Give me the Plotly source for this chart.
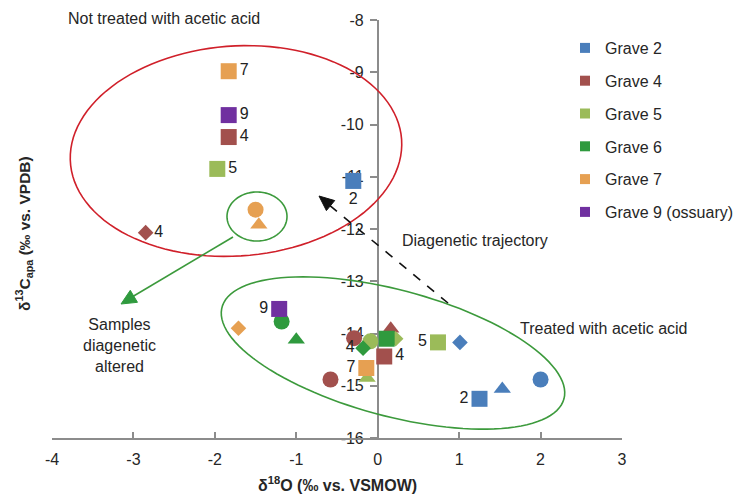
import numpy as np
import plotly.graph_objects as go

FONT = "Liberation Sans, Arial, sans-serif"

# ---------------- data ----------------
graves = ["Grave 2", "Grave 4", "Grave 5", "Grave 6", "Grave 7", "Grave 9 (ossuary)"]
colors = ["#4A7EBB", "#A2504D", "#9BBB59", "#2F9A3E", "#E6A052", "#7030A0"]

g2_x = [-0.30, 1.01, 1.25, 1.53, 2.00]
g2_y = [-11.08, -14.17, -15.25, -15.06, -14.88]
g2_sym = ["square", "diamond", "square", "triangle-up", "circle"]
g2_lab = ["2", "", "2", "", ""]
g2_pos = ["bottom center", "middle right", "middle left", "middle right", "middle right"]

g4_x = [-1.83, -2.85, -0.29, 0.16, 0.08, -0.58]
g4_y = [-10.24, -12.07, -14.09, -13.91, -14.44, -14.88]
g4_sym = ["square", "diamond", "circle", "triangle-up", "square", "circle"]
g4_lab = ["4", "4", "", "", "4", ""]
g4_pos = ["middle right", "middle right", "middle right", "middle right", "middle right", "middle right"]

g5_x = [-1.97, -0.09, 0.74, -0.13, 0.22]
g5_y = [-10.85, -14.15, -14.17, -14.85, -14.10]
g5_sym = ["square", "circle", "square", "triangle-up", "diamond"]
g5_lab = ["5", "", "5", "", ""]
g5_pos = ["middle right", "middle right", "middle left", "middle right", "middle right"]

g6_x = [0.11, -1.18, -1.00, -0.18]
g6_y = [-14.10, -13.77, -14.12, -14.28]
g6_sym = ["square", "circle", "triangle-up", "diamond"]
g6_lab = ["", "", "", "4"]
g6_pos = ["middle right", "middle right", "middle right", "middle left"]

g7_x = [-1.83, -1.50, -1.46, -1.71, -0.14]
g7_y = [-8.98, -11.63, -11.92, -13.90, -14.66]
g7_sym = ["square", "circle", "triangle-up", "diamond", "square"]
g7_lab = ["7", "", "", "", "7"]
g7_pos = ["middle right", "middle right", "middle right", "middle right", "middle left"]

g9_x = [-1.83, -1.21]
g9_y = [-9.82, -13.53]
g9_sym = ["square", "square"]
g9_lab = ["9", "9"]
g9_pos = ["middle right", "middle left"]

x_ticks = [-4, -3, -2, -1, 0, 1, 2, 3]
x_ticktext = ["-4", "-3", "-2", "-1", "0", "1", "2", "3"]
y_ticks = [-16, -15, -14, -13, -12, -11, -10, -9, -8]
y_ticktext = ["-16", "-15", "-14", "-13", "-12", "-11", "-10", "-9", "-8"]

series = [
    (g2_x, g2_y, g2_sym, g2_lab, g2_pos),
    (g4_x, g4_y, g4_sym, g4_lab, g4_pos),
    (g5_x, g5_y, g5_sym, g5_lab, g5_pos),
    (g6_x, g6_y, g6_sym, g6_lab, g6_pos),
    (g7_x, g7_y, g7_sym, g7_lab, g7_pos),
    (g9_x, g9_y, g9_sym, g9_lab, g9_pos),
]

# ---------------- layout geometry (page pixels) ----------------
PAGE_OFF = 8                      # default body margin of the html page
W, H = 745 - PAGE_OFF, 497 - PAGE_OFF
L, R, T, B = 52, 622, 20, 438     # plot area in page pixels
X0, X1, Y0, Y1 = -4, 3, -16, -8


def px2x(px):
    return X0 + (px - L) / (R - L) * (X1 - X0)


def py2y(py):
    return Y1 - (py - T) / (B - T) * (Y1 - Y0)


def pxp(px):
    return (px - L) / (R - L)


def pyp(py):
    return (B - py) / (B - T)


size_map = {"square": 16, "circle": 16, "diamond": 12, "triangle-up": 15}

fig = go.Figure()
for (xs, ys, syms, labs, poss), name, col in zip(series, graves, colors):
    fig.add_trace(go.Scatter(
        x=xs, y=ys, mode="markers+text", name=name, showlegend=False,
        text=labs, textposition=poss,
        textfont=dict(family=FONT, size=16, color="#222222"),
        marker=dict(symbol=syms, size=[size_map[s] for s in syms], color=col,
                    opacity=1, line=dict(width=0)),
        cliponaxis=False,
    ))

# legend entries
for i, (name, col) in enumerate(zip(graves, colors)):
    fig.add_trace(go.Scatter(
        x=[None], y=[None], mode="markers", name=name, legendgroup=str(i),
        marker=dict(symbol="square", size=10, color=col, opacity=1),
    ))


def ellipse_path(cx, cy, a, b, ang_deg, n=120):
    t = np.linspace(0, 2 * np.pi, n)
    th = np.deg2rad(ang_deg)
    px = cx + a * np.cos(t) * np.cos(th) - b * np.sin(t) * np.sin(th)
    py = cy + a * np.cos(t) * np.sin(th) + b * np.sin(t) * np.cos(th)
    pts = [f"{px2x(u):.4f},{py2y(v):.4f}" for u, v in zip(px, py)]
    return "M " + " L ".join(pts) + " Z"


def tri_path(tipx, tipy, fromx, fromy, length, half):
    d = np.array([tipx - fromx, tipy - fromy], dtype=float)
    d /= np.linalg.norm(d)
    nrm = np.array([-d[1], d[0]])
    base = np.array([tipx, tipy]) - d * length
    p1 = base + nrm * half
    p2 = base - nrm * half
    pts = [(tipx, tipy), tuple(p1), tuple(p2)]
    return "M " + " L ".join(f"{px2x(u):.4f},{py2y(v):.4f}" for u, v in pts) + " Z"


shapes = []
# red ellipse (not treated)
shapes.append(dict(type="path", xref="x", yref="y", path=ellipse_path(236, 151, 166, 105, -4),
                   line=dict(color="#D0202A", width=1.6)))
# green ellipse (treated)
shapes.append(dict(type="path", xref="x", yref="y", path=ellipse_path(393, 353, 177, 63, 15),
                   line=dict(color="#3C9A3C", width=1.6)))
# small green circle
shapes.append(dict(type="path", xref="x", yref="y", path=ellipse_path(257, 216.5, 30, 24.5, 0),
                   line=dict(color="#3C9A3C", width=1.6)))
# green arrow line
shapes.append(dict(type="line", xref="x", yref="y", x0=px2x(233), y0=py2y(237),
                   x1=px2x(132), y1=py2y(297), line=dict(color="#3C9A3C", width=1.6)))
shapes.append(dict(type="path", xref="x", yref="y",
                   path=tri_path(121, 304, 233, 237, 15, 7),
                   fillcolor="#2F9A3E", line=dict(color="#2F9A3E", width=1)))
# black dashed arrow
shapes.append(dict(type="line", xref="x", yref="y", x0=px2x(448), y0=py2y(303),
                   x1=px2x(328), y1=py2y(204), line=dict(color="#111111", width=1.6, dash="dash")))
shapes.append(dict(type="path", xref="x", yref="y",
                   path=tri_path(319, 196, 448, 303, 15, 6.5),
                   fillcolor="#111111", line=dict(color="#111111", width=1)))

txt = dict(family=FONT, size=16, color="#262626")
annotations = [
    dict(text="Not treated with acetic acid", x=pxp(164), y=pyp(19), xref="paper", yref="paper",
         showarrow=False, font=txt, xanchor="center", yanchor="middle"),
    dict(text="Diagenetic trajectory", x=pxp(400), y=pyp(240), xref="paper", yref="paper",
         showarrow=False, font=txt, xanchor="left", yanchor="middle"),
    dict(text="Treated with acetic acid", x=pxp(518), y=pyp(328), xref="paper", yref="paper",
         showarrow=False, font=txt, xanchor="left", yanchor="middle"),
    dict(text="Samples<br>diagenetic<br>altered", x=pxp(119), y=pyp(345), xref="paper", yref="paper",
         showarrow=False, font=txt, xanchor="center", yanchor="middle", align="center"),
    dict(text="<b>δ<sup>18</sup>O (‰ vs. VSMOW)</b>", x=pxp(337), y=pyp(484), xref="paper", yref="paper",
         showarrow=False, font=dict(family=FONT, size=16, color="#262626"),
         xanchor="center", yanchor="middle"),
    dict(text="<b>δ<sup>13</sup>C<sub>apa</sub> (‰ vs. VPDB)</b>", x=pxp(24), y=pyp(234),
         xref="paper", yref="paper", textangle=-90,
         showarrow=False, font=dict(family=FONT, size=15.5, color="#262626"),
         xanchor="center", yanchor="middle"),
]

fig.update_layout(
    width=W, height=H,
    margin=dict(l=L - PAGE_OFF, r=W - (R - PAGE_OFF), t=T - PAGE_OFF, b=H - (B - PAGE_OFF),
                autoexpand=False),
    paper_bgcolor="white", plot_bgcolor="white",
    font=dict(family=FONT, size=16, color="#262626"),
    shapes=shapes, annotations=annotations,
    legend=dict(x=pxp(565), y=pyp(31), xanchor="left", yanchor="top",
                font=dict(family=FONT, size=16, color="#262626"),
                tracegroupgap=9, bgcolor="rgba(0,0,0,0)", itemclick=False),
    xaxis=dict(range=[X0, X1], tickvals=x_ticks, ticktext=x_ticktext, showgrid=False,
               zeroline=False, showline=True, linecolor="#8C8C8C", linewidth=1.5,
               ticks="inside", ticklen=6, tickcolor="#8C8C8C", tickwidth=1.5,
               ticklabelstandoff=6,
               tickfont=dict(family=FONT, size=16, color="#262626")),
    yaxis=dict(range=[Y0, Y1], tickvals=y_ticks, ticktext=y_ticktext, showgrid=False,
               zeroline=False, showline=True, linecolor="#8C8C8C", linewidth=1.5,
               anchor="free", position=(0 - X0) / (X1 - X0),
               ticks="outside", ticklen=7, tickcolor="#8C8C8C", tickwidth=1.5,
               ticklabelstandoff=3,
               layer="below traces",
               tickfont=dict(family=FONT, size=16, color="#262626")),
)

fig.write_html("out.html")
